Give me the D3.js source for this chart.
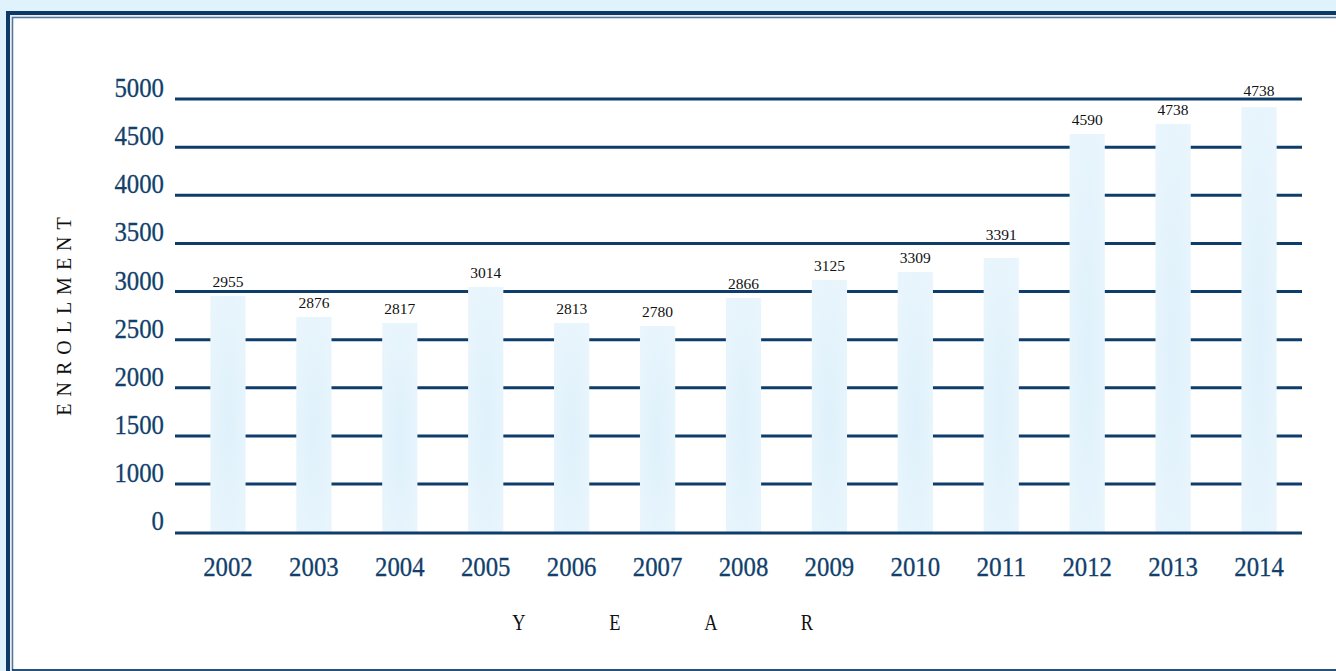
<!DOCTYPE html>
<html>
<head>
<meta charset="utf-8">
<title>Enrollment by year</title>
<style>
  html, body { margin: 0; padding: 0; background: #e0f2fc; }
  svg { display: block; }
  .grid line { stroke: #0f3d6b; stroke-width: 3px; }
  .tick-label { font-family: "Liberation Serif", serif; font-size: 27px; fill: #123f6c; stroke: #123f6c; stroke-width: 0.3px; }
  .value-label { font-family: "Liberation Serif", serif; font-size: 15.5px; fill: #111; }
  .axis-title { font-family: "Liberation Serif", serif; fill: #111; }
</style>
</head>
<body>
<script src="https://cdn.jsdelivr.net/npm/d3@7"></script>
<script>

var width = 1336,
    height = 671;

// data
var years = ["2002", "2003", "2004", "2005", "2006", "2007", "2008",
             "2009", "2010", "2011", "2012", "2013", "2014"];
// printed value labels
var valueLabels = [2955, 2876, 2817, 3014, 2813, 2780, 2866,
                   3125, 3309, 3391, 4590, 4738, 4738];
// bar heights as drawn (estimated on the axis)
var barLevels = [2953, 2735, 2673, 3047, 2673, 2642, 2932,
                 3119, 3203, 3348, 4636, 4740, 4917];
var yTicks = [0, 1000, 1500, 2000, 2500, 3000, 3500, 4000, 4500, 5000];

var svg = d3.select("body").append("svg")
    .attr("width", width)
    .attr("height", height);

// frame
svg.append("rect")
    .attr("x", 8).attr("y", 13)
    .attr("width", 1400).attr("height", 700)
    .attr("fill", "#e9eef3")
    .attr("stroke", "#0d3a66")
    .attr("stroke-width", 4);
svg.append("rect")
    .attr("x", 12.5).attr("y", 17.5)
    .attr("width", 1400).attr("height", 652.5)
    .attr("fill", "#fff")
    .attr("stroke", "#4f7699")
    .attr("stroke-width", 1.5);
svg.append("line")
    .attr("x1", 12).attr("x2", width)
    .attr("y1", 670).attr("y2", 670)
    .attr("stroke", "#0d3a66").attr("stroke-width", 1.5);

// scales: axis is 0, 1000, 1500 ... 5000 at equal spacing
var y = d3.scaleLinear()
    .domain([0, 1000, 5000])
    .range([532, 484, 99]);

var x = d3.scaleBand()
    .domain(years)
    .range([185, 1302])
    .paddingInner(0.59)
    .paddingOuter(0.295);

var gridLeft = 175, gridRight = 1302;
var digitW = 12.4; // narrow figures like the original

// bar gradient
var grad = svg.append("defs").append("radialGradient")
    .attr("id", "barFill")
    .attr("cx", "50%").attr("cy", "55%").attr("r", "80%");
grad.append("stop").attr("offset", "0%").attr("stop-color", "#dff1fb");
grad.append("stop").attr("offset", "100%").attr("stop-color", "#ebf6fd");

// gridlines (behind bars)
svg.append("g").attr("class", "grid")
  .selectAll("line")
  .data(yTicks.filter(function(d) { return d > 0; }))
  .enter().append("line")
    .attr("x1", gridLeft).attr("x2", gridRight)
    .attr("y1", function(d) { return y(d); })
    .attr("y2", function(d) { return y(d); });

// y tick labels
svg.append("g")
  .selectAll("text")
  .data(yTicks)
  .enter().append("text")
    .attr("class", "tick-label")
    .attr("x", 164)
    .attr("y", function(d) { return y(d) - 2; })
    .attr("text-anchor", "end")
    .attr("textLength", function(d) { return String(d).length * digitW; })
    .attr("lengthAdjust", "spacingAndGlyphs")
    .text(function(d) { return d; });

// bars
svg.append("g")
  .selectAll("rect")
  .data(barLevels)
  .enter().append("rect")
    .attr("x", function(d, i) { return x(years[i]); })
    .attr("y", function(d) { return y(d); })
    .attr("width", x.bandwidth())
    .attr("height", function(d) { return y(0) - y(d); })
    .attr("fill", "url(#barFill)");

// baseline on top
svg.append("g").attr("class", "grid")
  .append("line")
    .attr("x1", gridLeft).attr("x2", gridRight)
    .attr("y1", y(0) + 1).attr("y2", y(0) + 1);

// value labels, lifted above a gridline when they would sit on it
function labelY(level) {
  var base = y(level) - 9;
  yTicks.forEach(function(t) {
    var gy = y(t);
    if (gy > base - 12 && gy < base + 3) base = gy - 3;
  });
  return base;
}

svg.append("g")
  .selectAll("text")
  .data(valueLabels)
  .enter().append("text")
    .attr("class", "value-label")
    .attr("x", function(d, i) { return x(years[i]) + x.bandwidth() / 2; })
    .attr("y", function(d, i) { return labelY(barLevels[i]); })
    .attr("text-anchor", "middle")
    .text(function(d) { return d; });

// x tick labels
svg.append("g")
  .selectAll("text")
  .data(years)
  .enter().append("text")
    .attr("class", "tick-label")
    .attr("x", function(d) { return x(d) + x.bandwidth() / 2; })
    .attr("y", 576)
    .attr("text-anchor", "middle")
    .attr("textLength", function(d) { return d.length * digitW; })
    .attr("lengthAdjust", "spacingAndGlyphs")
    .text(function(d) { return d; });

// axis titles
var letters = "YEAR".split("");
svg.append("g")
  .selectAll("text")
  .data(letters)
  .enter().append("text")
    .attr("class", "axis-title")
    .attr("x", function(d, i) { return 519 + i * 96; })
    .attr("y", 630)
    .attr("text-anchor", "middle")
    .attr("transform", function(d, i) { var cx = 519 + i * 96; return "translate(" + cx + ",0) scale(0.8,1) translate(" + (-cx) + ",0)"; })
    .style("font-size", "23px")
    .text(function(d) { return d; });

svg.append("text")
    .attr("class", "axis-title")
    .attr("transform", "translate(71,313) rotate(-90)")
    .attr("text-anchor", "middle")
    .style("font-size", "20px")
    .style("letter-spacing", "7px")
    .text("ENROLLMENT");

</script>
</body>
</html>
